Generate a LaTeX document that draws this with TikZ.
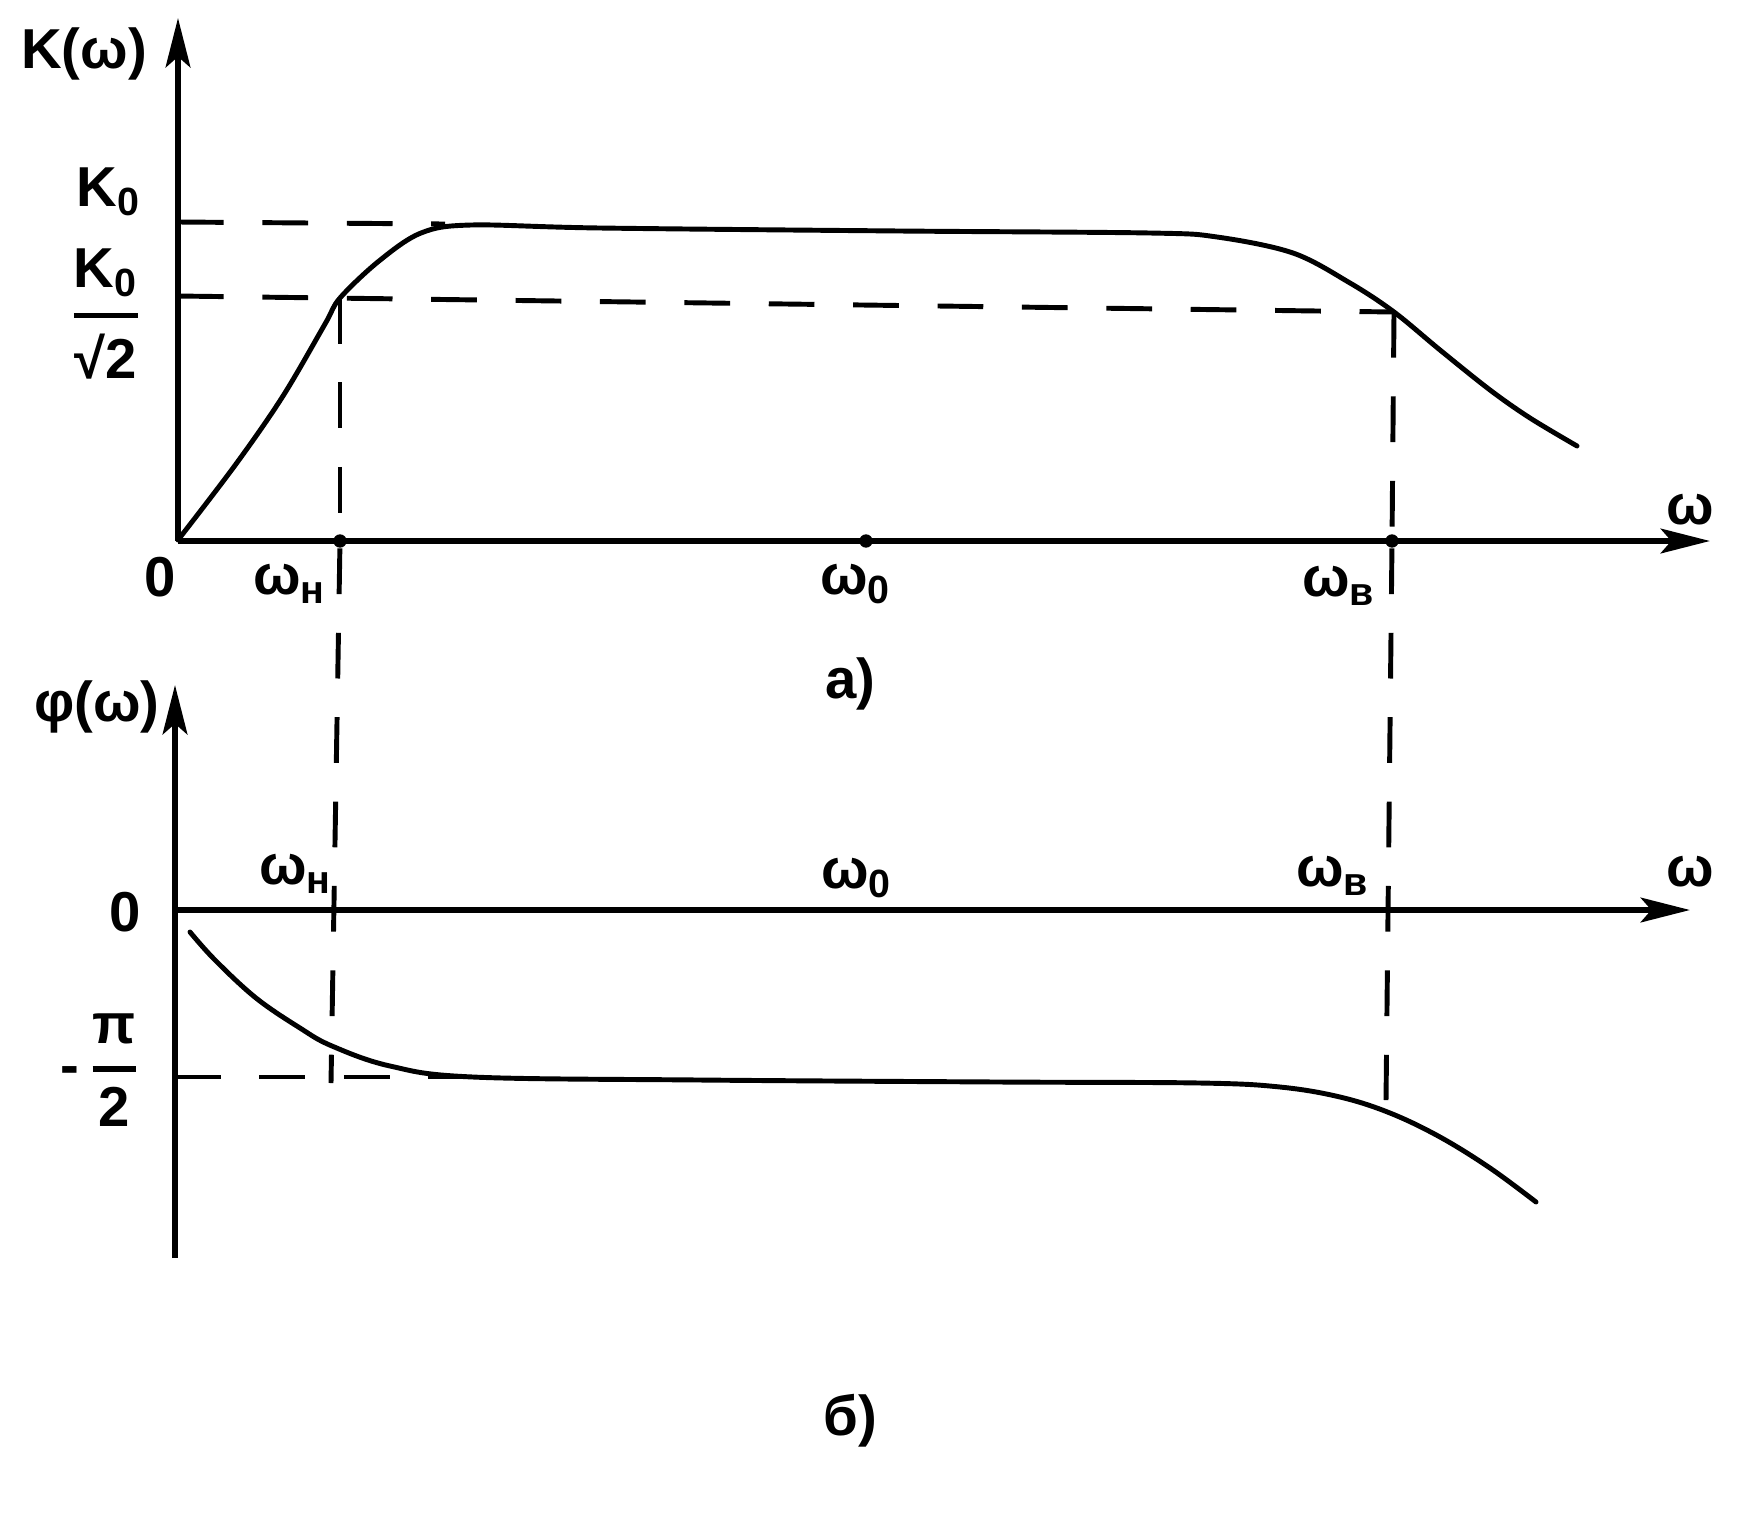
\documentclass[tikz,border=0pt]{standalone}
\usepackage{amsmath}
\usepackage{fontspec}
\setmainfont{Liberation Sans}
\usetikzlibrary{arrows.meta,positioning,calc}

\begin{document}
\begin{tikzpicture}[
    x=0.01cm, y=-0.01cm,
    axis/.style={line width=1.7pt, -{Stealth[length=14pt,width=7pt,inset=3pt]}},
    curve/.style={line width=1.4pt, line join=round, line cap=round},
    guide/.style={line width=1.4pt, dash pattern=on 13pt off 11pt},
    lbl/.style={font=\fontsize{16}{19}\selectfont\bfseries, inner sep=0pt},
    dot/.style={circle, fill=black, inner sep=0pt, minimum size=3.8pt}
]
\useasboundingbox (0,0) rectangle (1740,1536);

% Upper plot: K(w)
\coordinate (O1) at (178,541);
\coordinate (ytop1) at (178,18);
\coordinate (xtip1) at (1710,541);
\draw[axis] (O1) -- (ytop1);
\draw[axis] (O1) -- (xtip1);

\node[dot] (wn1) at (340,541) {};
\node[dot] (w01) at (866,541) {};
\node[dot] (wv1) at (1392,541) {};

\draw[curve] plot[smooth, tension=0.55] coordinates {(178,540) (236,464) (283,396) (325,324) (340,298) (379,261) (421,233) (471,225) (600,228) (900,231) (1150,233) (1217,237) (1293,253) (1350,283) (1394,312) (1440,350) (1490,390) (1530,418) (1577,446)};

\coordinate (k0L) at (178,222);
\coordinate (k0R) at (445,224);
\coordinate (k2L) at (178,296);
\coordinate (wnK) at (340,298);
\coordinate (wvK) at (1394,312);
\draw[guide] (k0L) -- (k0R);
\draw[guide] (k2L) -- (wvK);
\draw[guide] (wnK) -- (wn1);
\draw[guide] (wvK) -- (wv1);

\node[lbl] (Klab) at (84,54) {K(ω)};
\node[lbl] (K0lab) at (109,192) {K\textsubscript{0}};
\node[lbl] (K2lab) at (106,314) {$\genfrac{}{}{1.5pt}{0}{\mbox{K\textsubscript{0}}}{\mbox{√2}}$};
\node[lbl] (w1lab) at (1690,510) {ω};
\node[lbl] (O1lab) at (160,577) {0};
\node[lbl] (wn1lab) at (290,584) {ω\textsubscript{н}};
\node[lbl] (w01lab) at (856,584) {ω\textsubscript{0}};
\node[lbl] (wv1lab) at (1339,586) {ω\textsubscript{в}};
\node[lbl] (alab) at (850,684) {а)};

% Lower plot: phi(w)
\coordinate (O2) at (175,910);
\coordinate (ybot2) at (175,1258);
\coordinate (ytop2) at (175,685);
\coordinate (xtip2) at (1690,910);
\draw[axis] (ybot2) -- (ytop2);
\draw[axis] (O2) -- (xtip2);

\draw[curve] plot[smooth, tension=0.6] coordinates {(190,932) (215,960) (256,998) (300,1028) (332,1046) (390,1066) (473,1077) (700,1080) (1000,1082) (1200,1083) (1280,1087) (1340,1097) (1390,1113) (1440,1137) (1490,1168) (1536,1202)};

\coordinate (piL) at (175,1077);
\coordinate (piR) at (470,1077);
\coordinate (wnP) at (331,1083);
\coordinate (wvP) at (1386,1100);
\draw[guide] (piL) -- (piR);
\draw[guide] (wn1) -- (wnP);
\draw[guide] (wv1) -- (wvP);

\node[lbl] (Plab) at (97,707) {φ(ω)};
\node[lbl] (O2lab) at (125,912) {0};
\node[lbl] (pilab) at (100,1070) {-\,$\genfrac{}{}{1.5pt}{0}{\mbox{π}}{\mbox{2}}$};
\node[lbl] (w2lab) at (1690,872) {ω};
\node[lbl] (wn2lab) at (296,874) {ω\textsubscript{н}};
\node[lbl] (w02lab) at (857,878) {ω\textsubscript{0}};
\node[lbl] (wv2lab) at (1333,876) {ω\textsubscript{в}};
\node[lbl] (blab) at (850,1421) {б)};

\end{tikzpicture}
\end{document}
